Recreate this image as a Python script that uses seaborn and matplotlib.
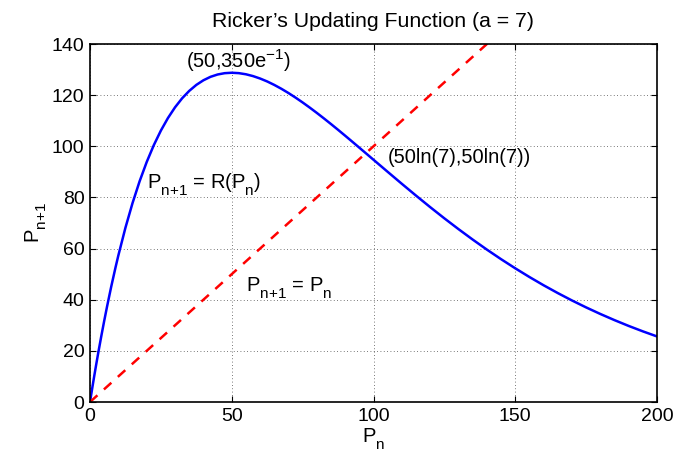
import matplotlib
matplotlib.use("Agg")
import matplotlib.pyplot as plt
import matplotlib._mathtext as mtx
import seaborn as sns
import pandas as pd

# Values
p_n = [0, 1, 1.5, 2, 2.5, 3, 4, 5, 6, 7.5, 9, 10, 12.5, 15, 17.5, 20, 22.5, 25, 27.5,
       30, 32.5, 35, 37.5, 40, 42.5, 45, 47.5, 50, 52.5, 55, 57.5, 60, 62.5, 65,
       67.5, 70, 72.5, 75, 77.5, 80, 82.5, 85, 87.5, 90, 92.5, 95, 97.5, 100,
       105, 110, 115, 120, 125, 130, 135, 140, 145, 150, 155, 160, 165, 170,
       175, 180, 185, 190, 195, 200]
p_next = [0, 6.86, 10.19, 13.45, 16.65, 19.78, 25.85, 31.67, 37.25, 45.19, 52.62,
          57.31, 68.15, 77.79, 86.32, 93.84, 100.43, 106.14, 111.06, 115.25, 118.77,
          121.66, 124.00, 125.81, 127.16, 128.07, 128.59, 128.76, 128.60, 128.16,
          127.45, 126.50, 125.35, 124.00, 122.49, 120.83, 119.04, 117.14, 115.14,
          113.06, 110.91, 108.70, 106.44, 104.14, 101.81, 99.46, 97.10, 94.73,
          90.01, 85.32, 80.71, 76.20, 71.82, 67.59, 63.51, 59.59, 55.85, 52.28,
          48.88, 45.65, 42.60, 39.71, 36.99, 34.43, 32.02, 29.75, 27.63, 25.64]
diag_x = [0, 200]
diag_y = [0, 200]
x_ticks = [0, 50, 100, 150, 200]
y_ticks = [0, 20, 40, 60, 80, 100, 120, 140]

# MATLAB-like sub/superscripts: larger and lower
mtx.SHRINK_FACTOR = 0.76
mtx.FontConstantsBase.sub1 = 0.7
mtx.FontConstantsBase.sub2 = 0.7

sns.set_theme(style="white")
plt.rcParams['font.family'] = ['Liberation Sans', 'DejaVu Sans']
plt.rcParams['mathtext.fontset'] = 'custom'
plt.rcParams['mathtext.rm'] = 'Liberation Sans'
plt.rcParams['mathtext.it'] = 'Liberation Sans'
plt.rcParams['text.color'] = 'black'
plt.rcParams['axes.labelcolor'] = 'black'

fig = plt.figure(figsize=(6.8, 4.61), dpi=100)
ax = fig.add_axes([90/680, 1-402/461, 567/680, 358/461])

curve = pd.DataFrame({"x": p_n, "y": p_next})
diag = pd.DataFrame({"x": diag_x, "y": diag_y})
sns.lineplot(data=curve, x="x", y="y", ax=ax, color="#0000ff", lw=1.8, estimator=None, sort=False)
sns.lineplot(data=diag, x="x", y="y", ax=ax, color="#ff0000", lw=1.8, estimator=None,
             sort=False, linestyle=(0, (4, 3.5)))

ax.set_xlim(0, 200)
ax.set_ylim(0, 140)
ax.set_xticks(x_ticks)
ax.set_yticks(y_ticks)
fs = 14.5
ax.tick_params(direction="in", length=4, width=0.8, labelsize=14, colors="black",
               top=True, right=True, bottom=True, left=True, pad=4)
ax.grid(True, color="black", linestyle=(0, (1, 3)), linewidth=0.6, alpha=0.7)
for s in ax.spines.values():
    s.set_visible(True)
    s.set_color("black")
    s.set_linewidth(1.2)

pn1 = r"$\mathregular{P_{n{+}1}}$"
ax.set_title("Ricker\u2019s Updating Function (a = 7)", fontsize=15.3, pad=12, color="black")
ax.set_xlabel(r"$\mathregular{P_n}$", fontsize=fs, labelpad=1)
ax.set_ylabel(pn1, fontsize=fs, labelpad=2)

ax.text(52.5, 133.5, r"(50,350e$^{-1}$)", fontsize=fs, ha="center", va="center")
ax.text(105, 95.5, "(50ln(7),50ln(7))", fontsize=fs, ha="left", va="center")
ax.text(20, 85, pn1 + r" = R($\mathregular{P_n}$)", fontsize=fs, ha="left", va="center")
ax.text(55, 44.5, pn1 + r" = $\mathregular{P_n}$", fontsize=fs, ha="left", va="center")

fig.savefig("out.png", dpi=100)
